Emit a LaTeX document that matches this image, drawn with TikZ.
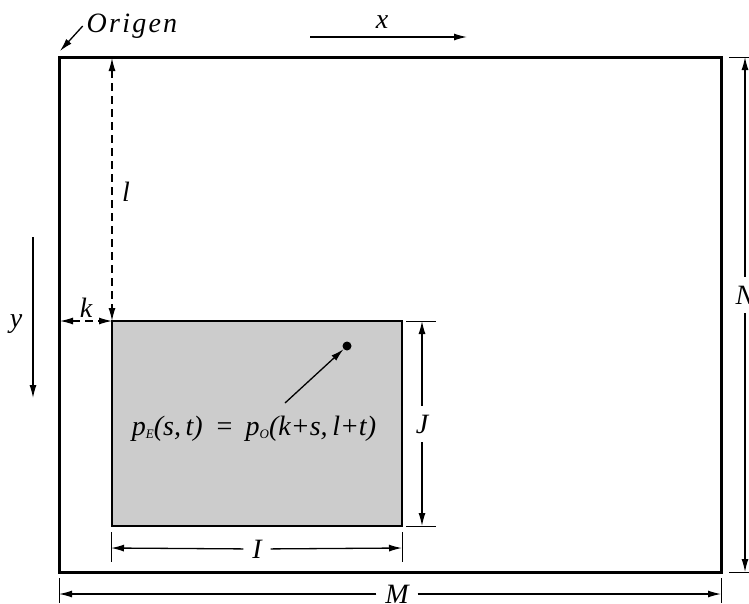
\documentclass[tikz,border=0pt]{standalone}
\usepackage{fontspec}
\setmainfont{Liberation Serif}
\usetikzlibrary{arrows.meta}
\newcommand\lowsub[1]{\raisebox{-0.3ex}{\fontsize{13}{13}\selectfont #1}}

\begin{document}
\begin{tikzpicture}[x=1pt, y=-1pt,
  every node/.append style={font=\fontsize{28}{32}\selectfont\itshape, inner sep=0pt},
  frame/.style={line width=3pt},
  block/.style={line width=2.6pt, fill=black!20},
  tip/.style={-{Latex[length=13pt,width=7pt]}, line width=1.3pt},
  guide/.style={{Latex[length=13pt,width=7pt]}-{Latex[length=13pt,width=7pt]}, line width=1.2pt, dash pattern=on 8pt off 5pt},
  tick/.style={line width=1pt},
  dimlabel/.style={outer sep=9pt},
]
\useasboundingbox (0,0) rectangle (749,603);

% ---------- image and window ----------
\coordinate (O) at (59,57);
\coordinate (Obr) at (721,572);
\coordinate (Etl) at (112,321);
\coordinate (Ebr) at (402,526);
\draw[frame] (O) rectangle (Obr);
\draw[block] (Etl) rectangle (Ebr);

% ---------- origin and axes ----------
\node[outer sep=4pt] (origen) at (132,26) {\addfontfeature{LetterSpace=8}Origen};
\coordinate (origin) at (60,51);
\draw[tip] (origen.west) -- (origin);

\coordinate (x0) at (310,37);
\coordinate (x1) at (467,37);
\draw[tip] (x0) -- (x1);
\node (xlab) at (382,22) {x};

\coordinate (y0) at (33,237);
\coordinate (y1) at (33,398);
\draw[tip] (y0) -- (y1);
\node (ylab) at (16,324) {y};

% ---------- offsets k and l ----------
\coordinate (ltop) at (112,58);
\coordinate (kleft) at (60,321);
\draw[guide] (ltop) -- (Etl);
\draw[guide] (kleft) -- (Etl);
\node (llab) at (126,192) {l};
\node (klab) at (86,308) {k};

% ---------- point inside the window ----------
\node[circle, fill, minimum size=9pt, font=] (dot) at (347,346) {};
\coordinate (ptr) at (285,403);
\draw[tip] (ptr) -- (dot);
\node[anchor=base] (formula) at (254,435)
  {p\lowsub{E}(s,\,t)\hspace{12pt}=\hspace{12pt}p\lowsub{O}(k+s,\,l+t)};

% ---------- dimensions I and J ----------
\draw[tick] (111,532) -- (111,562);
\draw[tick] (402,532) -- (402,562);
\coordinate (I0) at (111,548);
\coordinate (I1) at (402,548);
\node[dimlabel] (Ilab) at (257,549) {I};
\draw[tip] (Ilab) -- (I0);
\draw[tip] (Ilab) -- (I1);

\draw[tick] (406,321) -- (436,321);
\draw[tick] (406,526) -- (436,526);
\coordinate (J0) at (422,321);
\coordinate (J1) at (422,526);
\node[dimlabel] (Jlab) at (422,424) {J};
\draw[tip] (Jlab) -- (J0);
\draw[tip] (Jlab) -- (J1);

% ---------- dimensions M and N ----------
\draw[tick] (59,578) -- (59,603);
\draw[tick] (721,578) -- (721,603);
\coordinate (M0) at (59,594);
\coordinate (M1) at (721,594);
\node[dimlabel] (Mlab) at (397,594) {M};
\draw[tip] (Mlab) -- (M0);
\draw[tip] (Mlab) -- (M1);

\draw[tick] (729,57) -- (749,57);
\draw[tick] (729,572) -- (749,572);
\coordinate (N0) at (745,57);
\coordinate (N1) at (745,572);
\node[dimlabel] (Nlab) at (745,295) {N};
\draw[tip] (Nlab) -- (N0);
\draw[tip] (Nlab) -- (N1);

\end{tikzpicture}
\end{document}
